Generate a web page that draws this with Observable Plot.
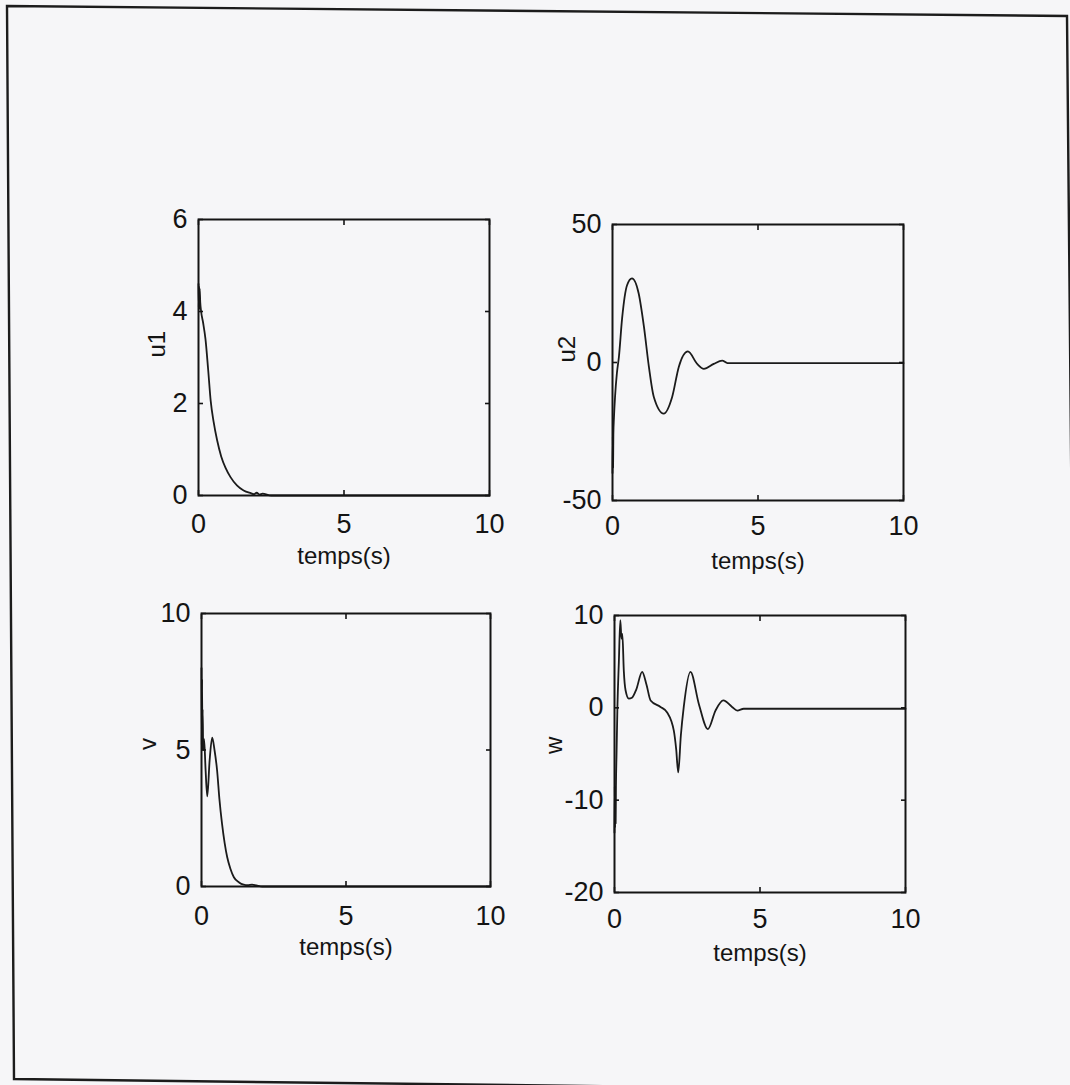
<!DOCTYPE html>
<html>
<head>
<meta charset="utf-8">
<script src="https://cdn.jsdelivr.net/npm/d3@7"></script>
<script src="https://cdn.jsdelivr.net/npm/@observablehq/plot@0.6"></script>
<style>
  html, body { margin: 0; padding: 0; background: #f6f6f8; }
  #fig { position: relative; width: 1070px; height: 1085px; overflow: hidden; background: #f6f6f8; }
  #fig svg { position: absolute; }
</style>
</head>
<body>
<div id="fig"></div>
<script>
// Shared time axis ticks (seconds)
const xTicks = [0, 5, 10];
const xLabel = "temps(s)";

// u1 — first control input
const tU1 = [0, 0.01, 0.02, 0.03, 0.04, 0.06, 0.09, 0.16, 0.24, 0.33, 0.42, 0.52, 0.64, 0.78, 0.93, 1.1, 1.32, 1.55, 1.8, 1.9, 2.0, 2.1, 2.2, 2.5, 10];
const u1  = [4.6, 4.1, 4.55, 4.05, 4.5, 4.2, 4.0, 3.75, 3.4, 2.75, 2.05, 1.6, 1.2, 0.85, 0.6, 0.4, 0.22, 0.11, 0.05, 0.03, 0.06, 0.02, 0.04, 0, 0];
const u1Ticks = [0, 2, 4, 6];

// u2 — second control input
const tU2 = [0, 0.01, 0.02, 0.03, 0.05, 0.09, 0.15, 0.22, 0.33, 0.5, 0.67, 0.9, 1.08, 1.25, 1.42, 1.76, 2.05, 2.28, 2.59, 2.91, 3.14, 3.48, 3.77, 3.95, 10];
const u2  = [-40, -27, -38, -26, -20, -12, -4, 2, 16, 28, 30.5, 25, 13, -1.5, -12.5, -18.5, -12.5, -1.5, 4, -0.5, -2.3, -0.5, 0.7, -0.2, -0.2];
const u2Ticks = [-50, 0, 50];

// v — linear velocity
const tV = [0, 0.01, 0.02, 0.03, 0.04, 0.06, 0.09, 0.14, 0.2, 0.28, 0.37, 0.45, 0.54, 0.62, 0.71, 0.8, 0.89, 1.0, 1.12, 1.3, 1.46, 1.6, 1.75, 1.9, 2.1, 10];
const v  = [8.0, 5.2, 7.6, 5.0, 6.5, 5.0, 5.4, 4.3, 3.3, 4.6, 5.45, 5.0, 4.25, 3.2, 2.3, 1.6, 1.07, 0.65, 0.34, 0.15, 0.07, 0.05, 0.07, 0.04, 0, 0];
const vTicks = [0, 5, 10];

// w — angular velocity
const tW = [0, 0.01, 0.02, 0.03, 0.04, 0.05, 0.07, 0.1, 0.15, 0.2, 0.24, 0.27, 0.32, 0.38, 0.49, 0.6, 0.75, 0.95, 1.1, 1.24, 1.58, 1.81, 2.04, 2.12, 2.19, 2.28, 2.38, 2.61, 2.9, 3.21, 3.47, 3.74, 4.04, 4.22, 4.44, 10];
const w  = [-13.5, -8.5, -13, -9, -12.5, -8.5, -5, 0, 5, 9.5, 7.5, 8, 4, 1.9, 1.0, 1.1, 2.0, 3.9, 2.5, 0.8, 0.1, -0.5, -2.5, -4.5, -7, -3, 0.1, 3.9, 0.4, -2.3, -0.3, 0.8, 0.1, -0.3, -0.1, -0.1];
const wTicks = [-20, -10, 0, 10];

const FONT = '"Liberation Sans", Arial, Helvetica, sans-serif';
const INK = "#141414";

const fig = document.getElementById("fig");

// Outer frame of the figure sheet
const sheet = d3.create("svg").attr("width", 1070).attr("height", 1085).style("left", "0px").style("top", "0px");
sheet.append("polygon")
  .attr("points", "7,6 1067,16 1077,1092 14,1079")
  .attr("fill", "none").attr("stroke", "#1c1c1c").attr("stroke-width", 2.4);
fig.appendChild(sheet.node());

function panel({t, y, ticks, label, left, top, w: pw, h: ph, xPad, yLabelOffset}) {
  const ML = 100, MR = 20, MT = 25, MB = 90;
  const data = t.map((ti, i) => ({t: ti, v: y[i]}));
  const fmt = d => String(d);
  const chart = Plot.plot({
    width: ML + pw + MR,
    height: MT + ph + MB,
    marginLeft: ML, marginRight: MR, marginTop: MT, marginBottom: MB,
    style: {background: "transparent", fontFamily: FONT, fontSize: "27px", color: INK, overflow: "visible"},
    x: {domain: [0, 10]},
    y: {domain: [ticks[0], ticks[ticks.length - 1]]},
    marks: [
      Plot.line(data, {x: "t", y: "v", curve: "monotone-x", stroke: "#1b1b1b", strokeWidth: 1.8}),
      Plot.frame({stroke: INK, strokeWidth: 2}),
      // inward tick marks on all four sides
      Plot.axisX(xTicks, {anchor: "bottom", tickSize: -5, fill: "none", label: null, strokeWidth: 1.6}),
      Plot.axisX(xTicks, {anchor: "top", tickSize: -5, fill: "none", label: null, strokeWidth: 1.6}),
      Plot.axisY(ticks, {anchor: "left", tickSize: -5, fill: "none", label: null, strokeWidth: 1.6}),
      Plot.axisY(ticks, {anchor: "right", tickSize: -5, fill: "none", label: null, strokeWidth: 1.6}),
      // tick labels
      Plot.axisX(xTicks, {anchor: "bottom", tickSize: 0, tickPadding: xPad, tickFormat: fmt, label: null}),
      Plot.axisY(ticks, {anchor: "left", tickSize: 0, tickPadding: 11, tickFormat: fmt, label: null}),
      // axis titles
      Plot.text([xLabel], {frameAnchor: "bottom", dy: 51, lineAnchor: "top", fontSize: 24, text: d => d, fill: INK}),
      Plot.text([label], {frameAnchor: "left", dx: -yLabelOffset, rotate: -90, lineAnchor: "middle", fontSize: 24, text: d => d, fill: INK})
    ]
  });
  chart.style.left = (left - ML) + "px";
  chart.style.top = (top - MT) + "px";
  fig.appendChild(chart);
}

panel({t: tU1, y: u1, ticks: u1Ticks, label: "u1", left: 198, top: 219, w: 291, h: 276, xPad: 18, yLabelOffset: 41});
panel({t: tU2, y: u2, ticks: u2Ticks, label: "u2", left: 612, top: 224, w: 291, h: 276, xPad: 15, yLabelOffset: 45});
panel({t: tV,  y: v,  ticks: vTicks,  label: "v",  left: 201, top: 613, w: 289, h: 273, xPad: 19, yLabelOffset: 53});
panel({t: tW,  y: w,  ticks: wTicks,  label: "w",  left: 614, top: 615, w: 291, h: 277, xPad: 16, yLabelOffset: 60});
</script>
</body>
</html>
